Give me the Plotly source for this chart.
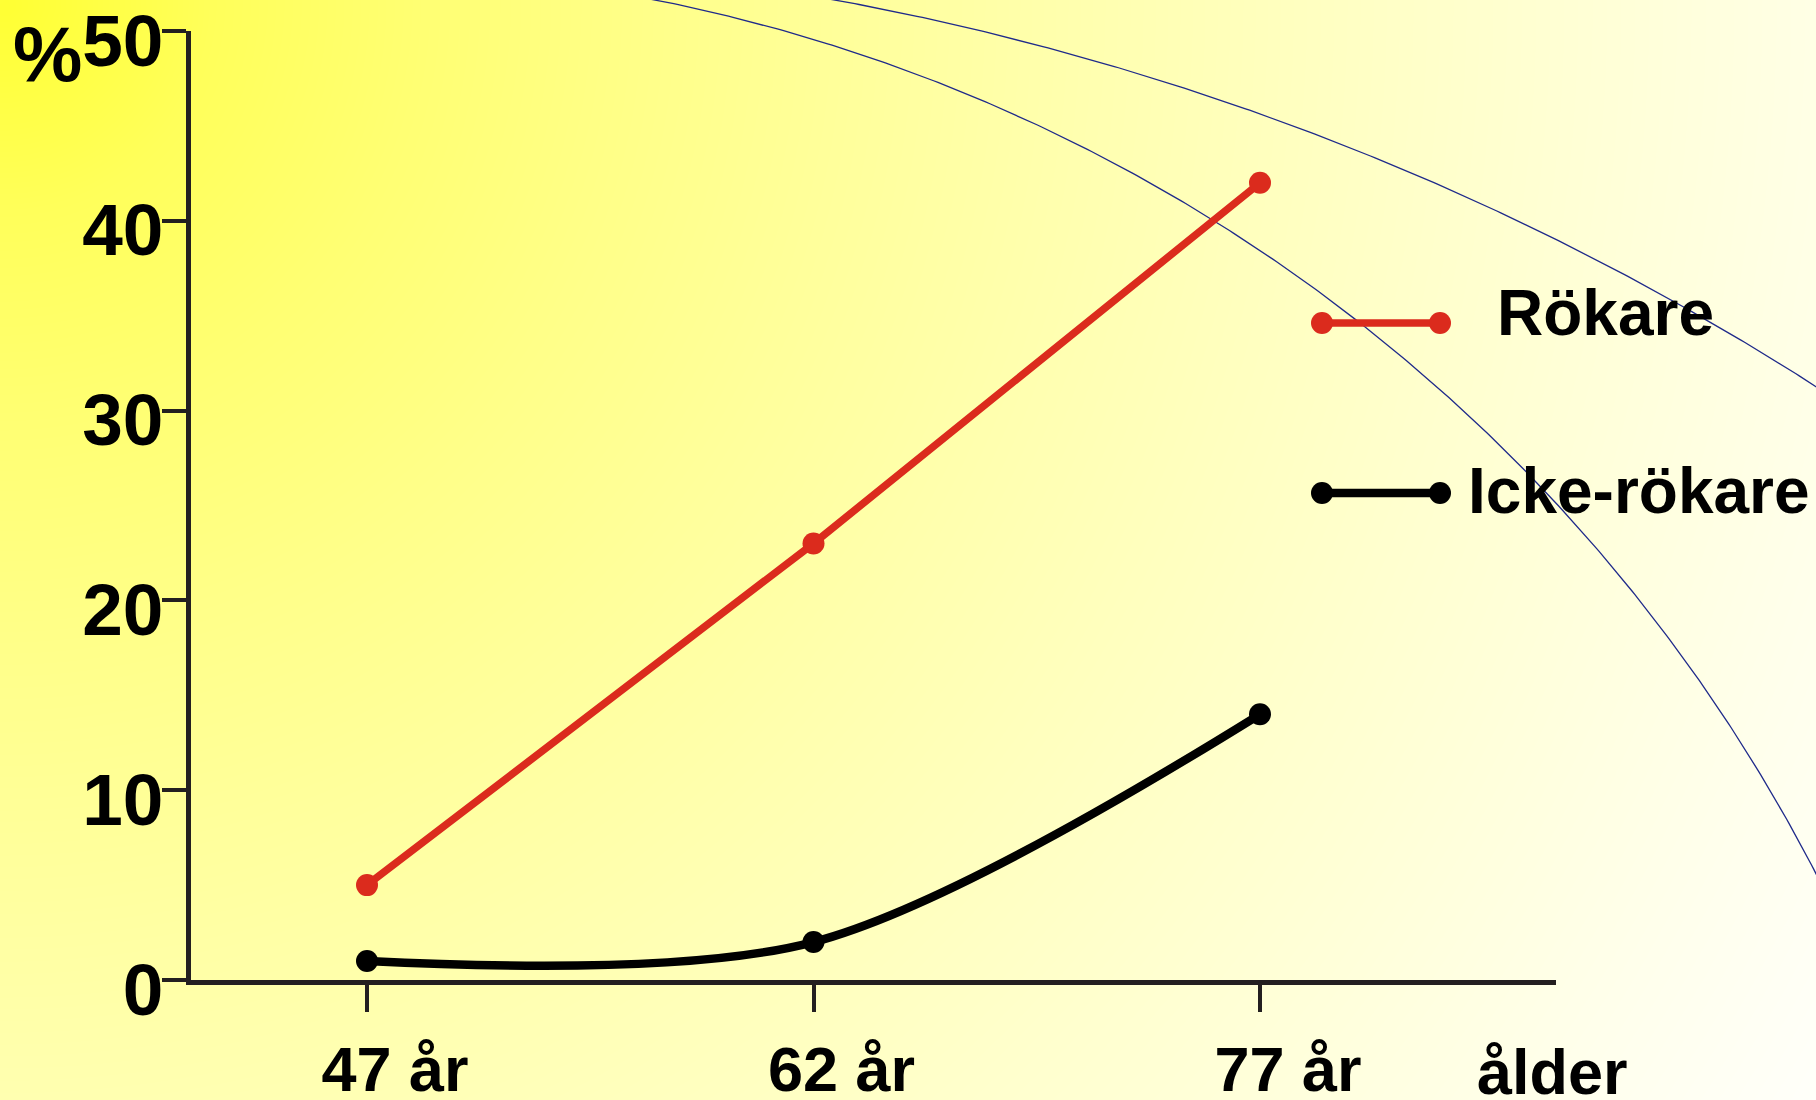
import numpy as np
import plotly.graph_objects as go

# ---- data ----
ages = ["47 år", "62 år", "77 år"]
rokare = [5, 23, 42]
icke_rokare = [1, 2, 14]
y_ticks = [0, 10, 20, 30, 40, 50]
series_names = ["Rökare", "Icke-rökare"]
x_title = "ålder"
y_unit = "%"

# ---- page geometry (pixels) ----
W, H = 1816, 1100
PX_LEFT, PX_RIGHT = 191, 1556     # x-axis extent
PX_TOP, PX_BOTTOM = 31, 980       # y-axis extent (50 .. 0)
CAT0_PX, CAT_STEP_PX = 367, 446.5  # first category position and spacing

RED = "#DB2B1D"
BLACK = "#000000"
AXIS = "#231F20"
ARC = "#1F2A8A"
FONT = "Liberation Sans, Arial, Helvetica, sans-serif"

fig = go.Figure()

# ---- background: yellow glow from the top-left corner ----
gx = np.linspace(-12, W + 12, 92)
gy = np.linspace(-12, H + 12, 57)
GX, GY = np.meshgrid(gx, gy)
dist = np.clip(np.hypot(GX, GY) / np.hypot(W, H), 0, 1)
stops = np.linspace(0, 1, 11)
bg_scale = [[float(s), f"rgb(255,255,{int(round(50 + 200 * s ** 0.7))})"] for s in stops]
fig.add_trace(go.Heatmap(
    x=gx, y=gy, z=dist, colorscale=bg_scale, zmin=0, zmax=1,
    zsmooth="best", showscale=False, hoverinfo="skip",
    xaxis="x", yaxis="y",
))

# ---- decorative thin blue arcs ----
for cx, cy, r, phi_max in [(330, 1640, 1672, 80), (341, 2692, 2737, 45)]:
    phi = np.radians(np.linspace(0, phi_max, 500))
    fig.add_trace(go.Scatter(
        x=cx + r * np.sin(phi), y=cy - r * np.cos(phi),
        mode="lines", line=dict(color=ARC, width=1.3),
        hoverinfo="skip", showlegend=False, xaxis="x", yaxis="y",
    ))

# ---- legend keys ----
legend_rows = [(series_names[0], RED, 7.5, 323), (series_names[1], BLACK, 8.5, 493)]
for name, color, lw, ky in legend_rows:
    fig.add_trace(go.Scatter(
        x=[1322, 1440], y=[ky, ky], mode="lines+markers",
        line=dict(color=color, width=lw), marker=dict(size=22, color=color),
        hoverinfo="skip", showlegend=False, xaxis="x", yaxis="y",
    ))

# ---- data series ----
fig.add_trace(go.Scatter(
    x=ages, y=rokare, name=series_names[0], mode="lines+markers",
    line=dict(color=RED, width=7.5), marker=dict(size=22, color=RED),
    xaxis="x2", yaxis="y2", showlegend=False,
))
fig.add_trace(go.Scatter(
    x=ages, y=icke_rokare, name=series_names[1], mode="lines+markers",
    line=dict(color=BLACK, width=8.5, shape="spline", smoothing=0.9),
    marker=dict(size=22, color=BLACK),
    xaxis="x2", yaxis="y2", showlegend=False,
))

bold = dict(family=FONT, color="black", weight="bold")

annotations = [
    dict(text=y_unit, x=47, y=54, font=dict(size=78, **bold)),
    dict(text=x_title, x=1552, y=1072, font=dict(size=63, **bold)),
    dict(text=series_names[0], x=1495, y=313, xanchor="left", font=dict(size=64, **bold)),
    dict(text=series_names[1], x=1466, y=491, xanchor="left", font=dict(size=64, **bold)),
]
for a in annotations:
    a.update(xref="x", yref="y", showarrow=False)
    a.setdefault("xanchor", "center")
    a.setdefault("yanchor", "middle")

fig.update_layout(
    width=W, height=H, margin=dict(l=0, r=0, t=0, b=0, autoexpand=False),
    paper_bgcolor="#FFFFF5", plot_bgcolor="rgba(0,0,0,0)",
    showlegend=False, hovermode=False,
    xaxis=dict(domain=[0, 1], range=[0, W], visible=False, fixedrange=True,
               automargin=False),
    yaxis=dict(domain=[0, 1], range=[H, 0], visible=False, fixedrange=True,
               automargin=False),
    xaxis2=dict(
        domain=[PX_LEFT / W, PX_RIGHT / W], anchor="y2", type="category",
        range=[(PX_LEFT - CAT0_PX) / CAT_STEP_PX, (PX_RIGHT - CAT0_PX) / CAT_STEP_PX],
        showline=True, linecolor=AXIS, linewidth=5,
        ticks="outside", ticklen=27, tickwidth=4, tickcolor=AXIS,
        showgrid=False, zeroline=False, automargin=False,
        tickfont=dict(size=63, **bold), ticklabelshift=28, ticklabelstandoff=3,
        ticklabeloverflow="allow", fixedrange=True,
    ),
    yaxis2=dict(
        domain=[1 - PX_BOTTOM / H, 1 - PX_TOP / H], anchor="x2",
        range=[0, 50], tickvals=y_ticks,
        showline=True, linecolor=AXIS, linewidth=5,
        ticks="outside", ticklen=24, tickwidth=4, tickcolor=AXIS,
        showgrid=False, zeroline=False, automargin=False,
        tickfont=dict(size=73, **bold), ticklabelshift=9, ticklabelstandoff=-16,
        ticklabeloverflow="allow", fixedrange=True,
    ),
    annotations=annotations,
)

fig.write_html("out.html")
